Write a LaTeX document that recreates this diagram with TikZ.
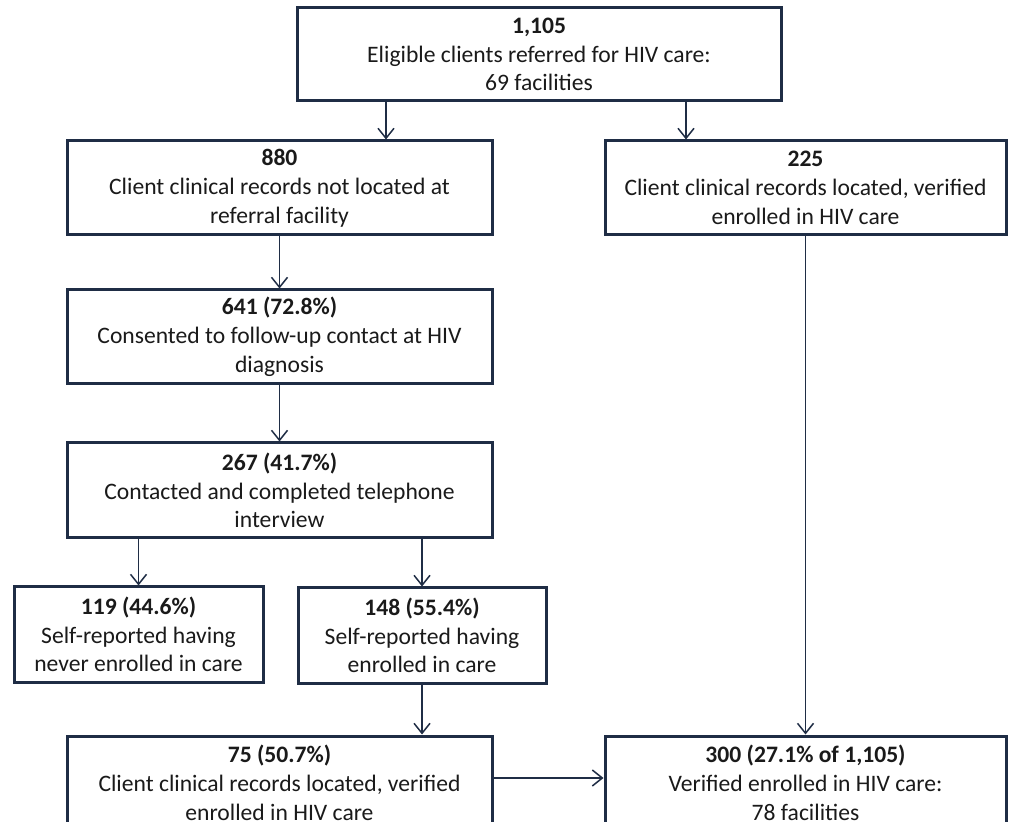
\documentclass[tikz,border=0pt]{standalone}
\usepackage{fontspec}
\setmainfont{Carlito}
\usetikzlibrary{arrows.meta}
\definecolor{navy}{HTML}{1F2D45}
\definecolor{ink}{HTML}{1A1A1A}

\begin{document}
\begin{tikzpicture}
[x=0.5pt,y=-0.5pt,
block/.style ={rectangle, draw=navy, line width=1.5pt, fill=white,
text=ink, align=center, inner sep=0pt,
font=\fontsize{11.8}{14.4}\selectfont},
wide/.style ={block, minimum width=212.5pt, minimum height=47pt},
line/.style ={draw=navy, line width=0.75pt,
-{Straight Barb[length=5pt,width=8pt]}}]
\clip (0,0) rectangle (1011,822);
\fill[white] (0,0) rectangle (1011,822);
% top row
\node [block, minimum width=242pt, minimum height=46.5pt] (total) at (539,54.5)
  {\textbf{1,105}\\Eligible clients referred for HIV care:\\69 facilities};
% left column
\node [wide] (notloc) at (279.5,188)
  {\textbf{880}\\Client clinical records not located at\\referral facility};
\node [wide] (consent) at (279.5,337)
  {\textbf{641 (72.8\%)}\\Consented to follow-up contact at HIV\\diagnosis};
\node [wide, minimum height=47.5pt] (phone) at (279.5,490.5)
  {\textbf{267 (41.7\%)}\\Contacted and completed telephone\\interview};
% self report row
\node [block, minimum width=124.5pt, minimum height=47.5pt] (never) at (138.5,634.5)
  {\textbf{119 (44.6\%)}\\Self-reported having\\never enrolled in care};
\node [block, minimum width=124pt, minimum height=47.5pt] (selfenr) at (422,635.5)
  {\textbf{148 (55.4\%)}\\Self-reported having\\enrolled in care};
% bottom row
\node [wide] (verif) at (279.5,783)
  {\textbf{75 (50.7\%)}\\Client clinical records located, verified\\enrolled in HIV care};
\node [block, minimum width=200.5pt, minimum height=47pt] (final) at (805.5,783)
  {\textbf{300 (27.1\% of 1,105)}\\Verified enrolled in HIV care:\\78 facilities};
% right column
\node [block, minimum width=200.5pt, minimum height=47pt] (located) at (805.5,188)
  {\textbf{225}\\Client clinical records located, verified\\enrolled in HIV care};

\begin{scope}[every path/.style=line]
\path ([xshift=-76.5pt]total.south) -- ([xshift=-76.5pt]total.south |- notloc.north);
\path ([xshift=73.5pt]total.south) -- ([xshift=73.5pt]total.south |- located.north);
\path (notloc) -- (consent);
\path (consent) -- (phone);
\path (phone.south -| never) -- (never);
\path (phone.south -| selfenr) -- (selfenr);
\path (selfenr) -- (selfenr |- verif.north);
\path (located) -- (final);
\path ([yshift=2.5pt]verif.east) -- ([yshift=2.5pt]final.west);
\end{scope}
\end{tikzpicture}
\end{document}
